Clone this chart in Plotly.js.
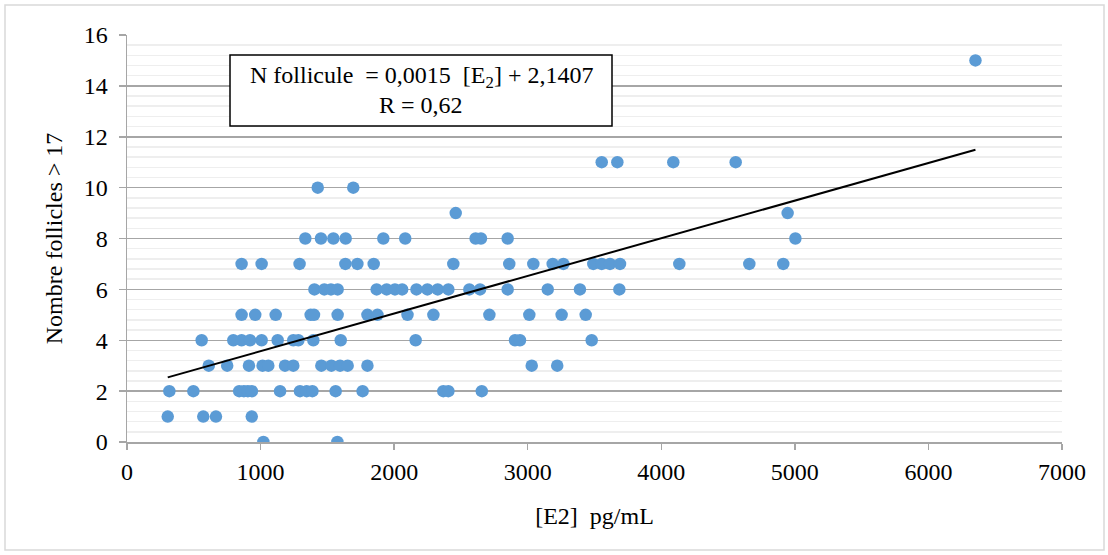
<!DOCTYPE html>
<html>
<head>
<meta charset="utf-8">
<script src="https://cdn.plot.ly/plotly-3.0.1.min.js"></script>
<style>
  html, body { margin: 0; padding: 0; background: #ffffff; }
  #chart { width: 1108px; height: 555px; }
</style>
</head>
<body>
<div id="chart"></div>
<script>
// [E2] pg/mL values, grouped by follicle count
const e2_n0  = [1021, 1575];
const e2_n1  = [305, 571, 666, 934];
const e2_n2  = [317, 497, 840, 875, 905, 935, 1146, 1295, 1345, 1388, 1562, 1764, 2368, 2406, 2656];
const e2_n3  = [612, 750, 913, 1015, 1058, 1183, 1245, 1455, 1530, 1595, 1652, 1800, 3030, 3221];
const e2_n4  = [559, 796, 858, 921, 1008, 1128, 1245, 1283, 1395, 1600, 2161, 2905, 2942, 3479];
const e2_n5  = [858, 960, 1113, 1375, 1400, 1577, 1800, 1875, 2100, 2294, 2713, 3012, 3254, 3434];
const e2_n6  = [1403, 1477, 1527, 1577, 1869, 1944, 2006, 2060, 2167, 2249, 2326, 2406, 2563, 2643, 2850, 3150, 3391, 3686];
const e2_n7  = [858, 1008, 1292, 1635, 1725, 1847, 2443, 2862, 3042, 3187, 3267, 3491, 3554, 3616, 3691, 4135, 4659, 4913];
const e2_n8  = [1335, 1452, 1545, 1637, 1919, 2083, 2610, 2650, 2850, 5004];
const e2_n9  = [2461, 4946];
const e2_n10 = [1428, 1694];
const e2_n11 = [3554, 3671, 4090, 4557];
const e2_n15 = [6352];

const follicleCounts = [0, 1, 2, 3, 4, 5, 6, 7, 8, 9, 10, 11, 15];
const e2Groups = [e2_n0, e2_n1, e2_n2, e2_n3, e2_n4, e2_n5, e2_n6, e2_n7, e2_n8, e2_n9, e2_n10, e2_n11, e2_n15];

// trend line as drawn in the picture (intercept, slope)
const trendIntercept = 2.09;
const trendSlope = 0.00148;

const xTickVals = [0, 1000, 2000, 3000, 4000, 5000, 6000, 7000];
const yTickVals = [0, 2, 4, 6, 8, 10, 12, 14, 16];

const NB = '\u00a0';
const equationText = 'N follicule ' + NB + '= 0,0015 ' + NB + '[E<sub>2</sub>] + 2,1407';
const rText = 'R = 0,62';
const xTitle = '[E2] ' + NB + 'pg/mL';
const yTitle = 'Nombre follicles &gt; 17';

// flatten
const xs = [], ys = [];
e2Groups.forEach((g, i) => g.forEach(v => { xs.push(v); ys.push(follicleCounts[i]); }));

const xMin = Math.min(...xs), xMax = Math.max(...xs);
const trendX = [xMin, xMax];
const trendY = trendX.map(v => trendIntercept + trendSlope * v);

const font = { family: '"Liberation Serif", "Times New Roman", serif', color: '#000000', size: 24 };

const traces = [
  {
    type: 'scatter', mode: 'markers', x: xs, y: ys,
    marker: { color: '#5b9bd5', size: 12.5, line: { width: 0 } },
    hoverinfo: 'x+y', showlegend: false
  },
  {
    type: 'scatter', mode: 'lines', x: trendX, y: trendY,
    line: { color: '#000000', width: 2 },
    hoverinfo: 'skip', showlegend: false
  }
];

const L = 127, R = 1062, T = 35, B = 442;
const W = R - L, H = B - T;
function px(xp) { return (xp - L) / W; }
function py(yp) { return (B - yp) / H; }

const layout = {
  width: 1108, height: 555,
  margin: { l: L, r: 1108 - R, t: T, b: 555 - B, pad: 0 },
  paper_bgcolor: '#ffffff', plot_bgcolor: '#ffffff',
  font: font,
  showlegend: false,
  xaxis: {
    range: [0, 7000], tickvals: xTickVals, ticktext: xTickVals.map(String),
    showgrid: false, zeroline: false,
    showline: true, linecolor: '#a6a6a6', linewidth: 1.5,
    ticks: 'outside', ticklen: 6, tickcolor: '#a6a6a6', tickwidth: 1.5,
    ticklabelstandoff: 2,
    tickfont: font,
    title: { text: xTitle, font: font, standoff: 23 },
    fixedrange: true
  },
  yaxis: {
    range: [0, 16], tickvals: yTickVals, ticktext: yTickVals.map(String),
    showgrid: true, gridcolor: '#a6a6a6', gridwidth: 1.5,
    zeroline: false,
    showline: true, linecolor: '#a6a6a6', linewidth: 1.5,
    ticks: 'outside', ticklen: 7, tickcolor: '#a6a6a6', tickwidth: 1.5,
    ticklabelstandoff: 6,
    tickfont: font,
    minor: { dtick: 0.4, tick0: 0, showgrid: true, gridcolor: '#eeeeee', gridwidth: 1.5, ticks: '' },
    title: { text: yTitle, font: font, standoff: 14 },
    fixedrange: true
  },
  shapes: [
    {
      type: 'rect', xref: 'paper', yref: 'paper',
      x0: px(5), x1: px(1104), y0: py(550), y1: py(5),
      line: { color: '#d9d9d9', width: 1.5 }, fillcolor: 'rgba(0,0,0,0)', layer: 'below'
    },
    {
      type: 'rect', xref: 'paper', yref: 'paper',
      x0: px(230), x1: px(612), y0: py(126), y1: py(55),
      line: { color: '#000000', width: 1.5 }, fillcolor: '#ffffff', layer: 'above'
    }
  ],
  annotations: [
    {
      xref: 'paper', yref: 'paper', x: px(421), y: py(77),
      xanchor: 'center', yanchor: 'middle',
      text: equationText, showarrow: false, font: font
    },
    {
      xref: 'paper', yref: 'paper', x: px(421), y: py(105),
      xanchor: 'center', yanchor: 'middle',
      text: rText, showarrow: false, font: font
    }
  ]
};

Plotly.newPlot('chart', traces, layout, { staticPlot: true, displayModeBar: false });
</script>
</body>
</html>
